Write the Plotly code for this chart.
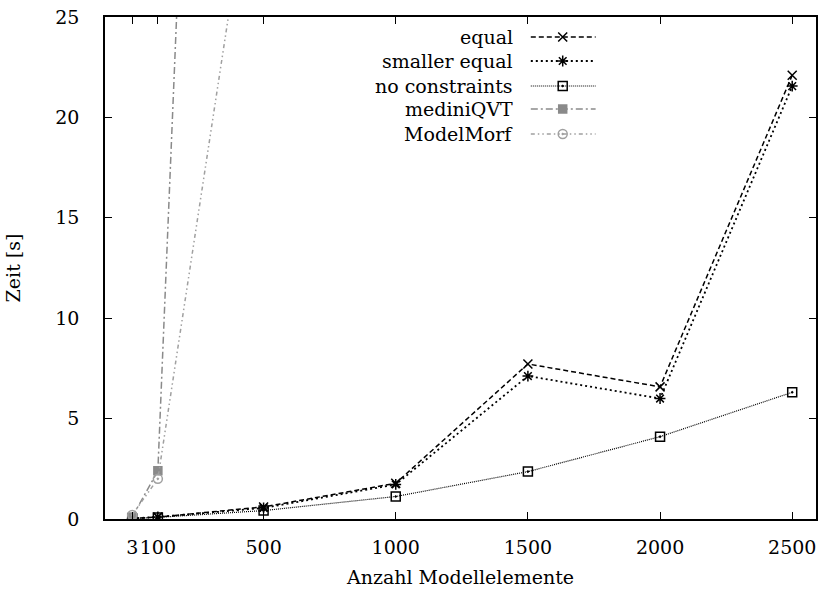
import plotly.graph_objects as go

# ---- data ----
x_vals = [3, 100, 500, 1000, 1500, 2000, 2500]
equal = [0.03, 0.1, 0.6, 1.78, 7.72, 6.58, 22.1]
smaller_equal = [0.03, 0.1, 0.55, 1.72, 7.12, 6.0, 21.56]
no_constraints = [0.02, 0.08, 0.42, 1.12, 2.36, 4.1, 6.31]
medini_x = [3, 100, 500]
medini_y = [0.1, 2.4, 130.0]
modelmorf_x = [3, 100, 500]
modelmorf_y = [0.2, 2.0, 36.5]

x_ticks = [3, 100, 500, 1000, 1500, 2000, 2500]
y_ticks = [0, 5, 10, 15, 20, 25]

series = [
    dict(name="equal", x=x_vals, y=equal, color="black", dash="5px,3px", width=1.5,
         symbol="x-thin-open", msize=9),
    dict(name="smaller equal", x=x_vals, y=smaller_equal, color="black", dash="2px,3px", width=1.8,
         symbol="asterisk-open", msize=9),
    dict(name="no constraints", x=x_vals, y=no_constraints, color="black", dash="1px,1px", width=1.2,
         symbol="square-open-dot", msize=9),
    dict(name="mediniQVT", x=medini_x, y=medini_y, color="#8a8a8a", dash="7px,3px,2px,3px", width=1.5,
         symbol="square", msize=8),
    dict(name="ModelMorf", x=modelmorf_x, y=modelmorf_y, color="#a0a0a0", dash="4px,3px,1.5px,3px,1.5px,3px", width=1.5,
         symbol="circle-open-dot", msize=9),
]

FONT = "DejaVu Serif"
FS = 19
fig = go.Figure()

for s in series:
    fig.add_trace(go.Scatter(
        x=s["x"], y=s["y"], mode="lines+markers", name=s["name"],
        line=dict(color=s["color"], dash=s["dash"], width=s["width"]),
        marker=dict(symbol=s["symbol"], size=s["msize"], color=s["color"],
                    line=dict(color=s["color"], width=1.5)),
        showlegend=False, cliponaxis=True,
    ))

# ---- custom gnuplot-style legend (text left, sample right) on overlay axes ----
legend_rows = [37, 61, 86, 109, 134]  # pixel rows from top
for s, row in zip(series, legend_rows):
    yy = 1 - (row - 17) / 502.0
    x0 = (532 - 105) / 713.0
    x1 = (597 - 105) / 713.0
    xm = (564 - 105) / 713.0
    fig.add_trace(go.Scatter(
        x=[x0, x1], y=[yy, yy], xaxis="x2", yaxis="y2", mode="lines",
        line=dict(color=s["color"], dash=s["dash"], width=s["width"]),
        showlegend=False, hoverinfo="skip"))
    fig.add_trace(go.Scatter(
        x=[xm], y=[yy], xaxis="x2", yaxis="y2", mode="markers",
        marker=dict(symbol=s["symbol"], size=s["msize"], color=s["color"],
                    line=dict(color=s["color"], width=1.5)),
        showlegend=False, hoverinfo="skip"))
    fig.add_annotation(x=(516 - 105) / 713.0, y=yy, xref="x2", yref="y2",
                       text=s["name"], showarrow=False, xanchor="right", yanchor="middle",
                       font=dict(family=FONT, size=FS, color="black"))

fig.update_layout(
    width=819, height=590,
    margin=dict(l=105, r=1, t=17, b=71),
    paper_bgcolor="white", plot_bgcolor="white",
    font=dict(family=FONT, size=FS, color="black"),
    xaxis=dict(range=[-100, 2590], tickvals=x_ticks, ticktext=[str(v) for v in x_ticks],
               tickangle=0, ticks="inside", ticklen=7, tickwidth=1.2, tickcolor="black",
               showline=True, linecolor="black", linewidth=1.5, mirror="ticks",
               showgrid=False, zeroline=False, ticklabelstandoff=10,
               tickfont=dict(family=FONT, size=FS),
               title=dict(text="Anzahl Modellelemente", standoff=14,
                          font=dict(family=FONT, size=FS))),
    yaxis=dict(range=[0, 25], tickvals=y_ticks, ticks="inside", ticklen=7, tickwidth=1.2,
               tickcolor="black", showline=True, linecolor="black", linewidth=1.5,
               mirror="ticks", showgrid=False, zeroline=False, ticklabelstandoff=20,
               tickfont=dict(family=FONT, size=FS),
               title=dict(text="Zeit [s]", standoff=30, font=dict(family=FONT, size=FS))),
    xaxis2=dict(range=[0, 1], overlaying="x", visible=False, fixedrange=True),
    yaxis2=dict(range=[0, 1], overlaying="y", visible=False, fixedrange=True),
)

fig.write_html("out.html")
